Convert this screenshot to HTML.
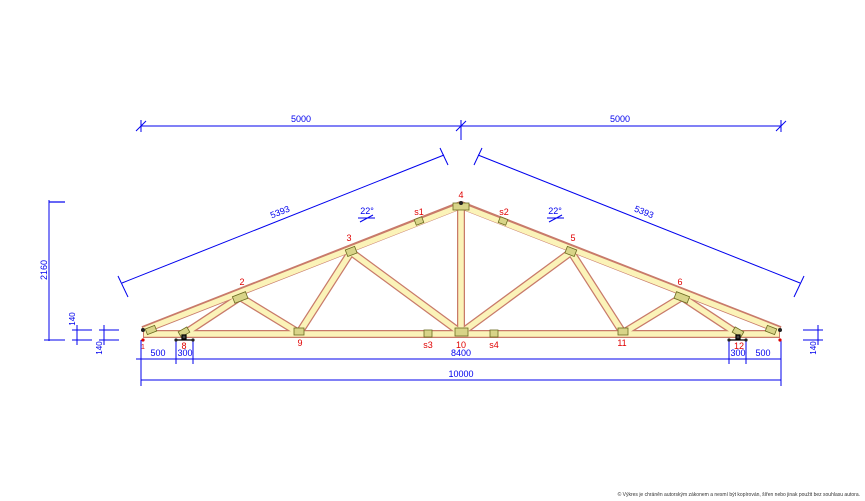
<!DOCTYPE html>
<html><head><meta charset="utf-8"><style>html,body{margin:0;padding:0;background:#fff;}svg{display:block}</style></head>
<body>
<svg width="865" height="501" viewBox="0 0 865 501" xmlns="http://www.w3.org/2000/svg" font-family="Liberation Sans, sans-serif">
<g stroke="#0000ee" stroke-width="1" fill="none">
<!-- top horizontal dim -->
<line x1="141" y1="126" x2="781" y2="126"/>
<line x1="141" y1="120" x2="141" y2="132"/><line x1="461" y1="120" x2="461" y2="140"/><line x1="781" y1="120" x2="781" y2="132"/>
<line x1="136" y1="131" x2="146" y2="121"/><line x1="456" y1="131" x2="466" y2="121"/><line x1="776" y1="131" x2="786" y2="121"/>
<!-- slope dims -->
<line x1="122" y1="283" x2="444" y2="155"/>
<line x1="118" y1="276" x2="128" y2="297"/><line x1="440" y1="148" x2="448" y2="165"/>
<line x1="478" y1="155" x2="800" y2="283"/>
<line x1="474" y1="165" x2="482" y2="148"/><line x1="794" y1="297" x2="804" y2="276"/>
<!-- left vertical -->
<line x1="49" y1="200" x2="49" y2="341"/>
<line x1="49" y1="202" x2="65" y2="202" stroke-width="2" opacity="0.6"/>
<line x1="44" y1="340" x2="65" y2="340"/>
<line x1="77" y1="325" x2="77" y2="345"/><line x1="72" y1="330" x2="92" y2="330"/><line x1="72" y1="340" x2="92" y2="340"/>
<line x1="104" y1="325" x2="104" y2="345"/><line x1="99" y1="330" x2="119" y2="330"/><line x1="99" y1="340" x2="119" y2="340"/>
<line x1="818" y1="325" x2="818" y2="345"/><line x1="803" y1="330" x2="823" y2="330"/><line x1="803" y1="340" x2="823" y2="340"/>
<!-- bottom dims -->
<line x1="141" y1="359" x2="781" y2="359"/>
<line x1="141" y1="380" x2="781" y2="380"/>
<line x1="141" y1="340" x2="141" y2="386"/><line x1="781" y1="340" x2="781" y2="386"/>
<line x1="176" y1="340" x2="176" y2="364"/><line x1="193" y1="340" x2="193" y2="364"/>
<line x1="729" y1="340" x2="729" y2="364"/><line x1="746" y1="340" x2="746" y2="364"/>
<line x1="136" y1="359" x2="146" y2="359"/>
<!-- 22 deg markers -->
<line x1="358" y1="218" x2="375" y2="218"/><line x1="360" y1="222" x2="373" y2="215"/>
<line x1="547" y1="218" x2="564" y2="218"/><line x1="549" y1="222" x2="562" y2="215"/>
</g>
<g fill="#0000ee" font-size="9" text-anchor="middle">
<text x="301" y="122">5000</text><text x="620" y="122">5000</text>
<text x="280" y="215" transform="rotate(-21.7 280 212)">5393</text>
<text x="644" y="215" transform="rotate(21.7 644 212)">5393</text>
<text x="45" y="272" transform="rotate(-90 45 270)">2160</text>
<text x="72" y="322" transform="rotate(-90 72 319)" font-size="8">140</text>
<text x="99" y="351" transform="rotate(-90 99 348)" font-size="8">140</text>
<text x="813" y="351" transform="rotate(-90 813 348)" font-size="8">140</text>
<text x="367" y="214">22°</text><text x="555" y="214">22°</text>
<text x="158" y="356">500</text><text x="185" y="356">300</text>
<text x="461" y="356">8400</text>
<text x="738" y="356">300</text><text x="763" y="356">500</text>
<text x="461" y="377">10000</text>
</g>
<!-- truss members -->
<g stroke-linecap="butt">
<g stroke="#c87a6a" stroke-width="8">
<line x1="143" y1="334" x2="780" y2="334"/>
<line x1="184" y1="334" x2="240" y2="297"/><line x1="240" y1="297" x2="299" y2="333"/>
<line x1="299" y1="333" x2="351" y2="252"/><line x1="351" y1="252" x2="461" y2="333"/>
<line x1="461" y1="206" x2="461" y2="333"/>
<line x1="738" y1="334" x2="682" y2="297"/><line x1="682" y1="297" x2="623" y2="333"/>
<line x1="623" y1="333" x2="571" y2="252"/><line x1="571" y1="252" x2="461" y2="333"/>
<line x1="143" y1="330" x2="461" y2="205"/><line x1="780" y1="330" x2="461" y2="205"/>
</g>
<g stroke="#fbf3b8" stroke-width="5.5">
<line x1="144" y1="334" x2="779" y2="334"/>
<line x1="184" y1="334" x2="240" y2="297"/><line x1="240" y1="297" x2="299" y2="333"/>
<line x1="299" y1="333" x2="351" y2="252"/><line x1="351" y1="252" x2="461" y2="333"/>
<line x1="461" y1="207" x2="461" y2="333"/>
<line x1="738" y1="334" x2="682" y2="297"/><line x1="682" y1="297" x2="623" y2="333"/>
<line x1="623" y1="333" x2="571" y2="252"/><line x1="571" y1="252" x2="461" y2="333"/>
<line x1="144" y1="330" x2="461" y2="206"/><line x1="779" y1="330" x2="461" y2="206"/>
</g>
</g>
<!-- plates -->
<g fill="#d8d488" stroke="#6a6a20" stroke-width="0.8">
<rect x="146" y="327" width="10" height="6" transform="rotate(-21 151 330)"/>
<rect x="179" y="329" width="10" height="6" transform="rotate(-30 184 332)"/>
<rect x="233" y="294" width="14" height="7" transform="rotate(-21 240 297)"/>
<rect x="294" y="328" width="10" height="7"/>
<rect x="346" y="248" width="10" height="7" transform="rotate(-21 351 251)"/>
<rect x="415" y="218" width="8" height="6" transform="rotate(-21 419 221)"/>
<rect x="453" y="203" width="16" height="7"/>
<rect x="499" y="218" width="8" height="6" transform="rotate(21 503 221)"/>
<rect x="566" y="248" width="10" height="7" transform="rotate(21 571 251)"/>
<rect x="675" y="294" width="14" height="7" transform="rotate(21 682 297)"/>
<rect x="618" y="328" width="10" height="7"/>
<rect x="733" y="329" width="10" height="6" transform="rotate(30 738 332)"/>
<rect x="766" y="327" width="10" height="6" transform="rotate(21 771 330)"/>
<rect x="424" y="330" width="8" height="7"/><rect x="490" y="330" width="8" height="7"/>
<rect x="455" y="328" width="13" height="8"/>
</g>
<!-- supports -->
<g stroke="#000" stroke-width="1.2" fill="none">
<line x1="176" y1="340" x2="193" y2="340"/><rect x="182" y="335" width="4" height="4" fill="#444"/>
<line x1="729" y1="340" x2="746" y2="340"/><rect x="736" y="335" width="4" height="4" fill="#444"/>
</g>
<g fill="#222"><circle cx="176" cy="340" r="1.6"/><circle cx="193" cy="340" r="1.6"/><circle cx="729" cy="340" r="1.6"/><circle cx="746" cy="340" r="1.6"/>
<circle cx="143" cy="330" r="2"/><circle cx="780" cy="330" r="2"/><circle cx="461" cy="203" r="2"/></g>
<circle cx="143" cy="340" r="1.6" fill="#d00"/><circle cx="780" cy="340" r="1.6" fill="#d00"/>
<!-- node labels -->
<g fill="#e00000" font-size="9" text-anchor="middle">
<text x="242" y="285">2</text><text x="349" y="241">3</text><text x="461" y="198">4</text>
<text x="573" y="241">5</text><text x="680" y="285">6</text>
<text x="419" y="215">s1</text><text x="504" y="215">s2</text>
<text x="184" y="349">8</text><text x="300" y="346">9</text><text x="461" y="348">10</text>
<text x="622" y="346">11</text><text x="739" y="349">12</text>
<text x="428" y="348">s3</text><text x="494" y="348">s4</text>
<text x="143" y="349" font-size="7">1</text>
</g>
<text x="860" y="496" font-size="5" fill="#333" text-anchor="end">© Výkres je chráněn autorským zákonem a nesmí být kopírován, šířen nebo jinak použit bez souhlasu autora.</text>
</svg>
</body></html>
